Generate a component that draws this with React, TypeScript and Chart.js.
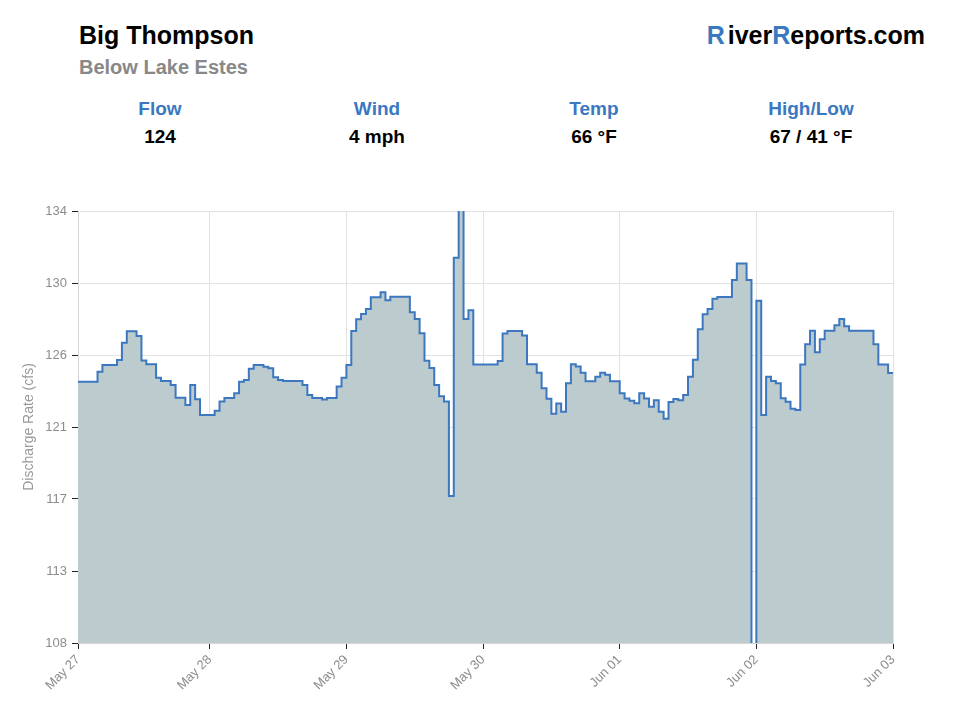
import React, { useEffect, useRef } from "react";
import { Chart, registerables } from "chart.js";

Chart.register(...registerables);

// ---- Data ----
const stationName = "Big Thompson";
const stationSub = "Below Lake Estes";
const statLabels = ["Flow", "Wind", "Temp", "High/Low"];
const statValues = ["124", "4 mph", "66 °F", "67 / 41 °F"];

// hourly discharge (cfs), starting May 27 00:00
const flowValues = [
  123.73, 123.73, 123.73, 123.73, 124.33, 124.73, 124.73, 124.73, 125.03, 126.07,
  126.76, 126.76, 126.48, 125.0, 124.77, 124.77, 123.97, 123.77, 123.77, 123.53,
  122.76, 122.76, 122.32, 123.53, 122.67, 121.72, 121.72, 121.72, 121.98, 122.53,
  122.75, 122.75, 123.03, 123.73, 123.83, 124.51, 124.73, 124.73, 124.63, 124.53,
  123.99, 123.83, 123.77, 123.77, 123.77, 123.77, 123.53, 122.93, 122.75, 122.75,
  122.65, 122.75, 122.75, 123.43, 123.97, 124.73, 126.78, 127.48, 127.8, 128.1,
  128.81, 128.81, 129.11, 128.63, 128.84, 128.84, 128.84, 128.84, 127.9, 127.5,
  126.64, 124.99, 124.55, 123.53, 122.85, 122.53, 116.85, 131.19, 137.0, 127.5,
  128.03, 124.76, 124.76, 124.76, 124.76, 124.76, 124.97, 126.62, 126.78, 126.78,
  126.78, 126.5, 124.78, 124.78, 124.27, 123.33, 122.7, 121.79, 122.41, 121.92,
  123.64, 124.77, 124.64, 124.27, 123.76, 123.76, 124.03, 124.26, 124.14, 123.75,
  123.75, 123.03, 122.72, 122.58, 122.43, 123.03, 122.71, 122.22, 122.61, 121.92,
  121.5, 122.51, 122.69, 122.61, 122.93, 124.03, 125.05, 126.88, 127.79, 128.1,
  128.72, 128.82, 128.82, 128.82, 129.84, 130.84, 130.84, 129.84, 100.0, 128.6,
  121.72, 124.03, 123.77, 123.63, 122.73, 122.52, 122.1, 122.02, 124.76, 125.98,
  126.79, 125.5, 126.28, 126.79, 126.79, 127.12, 127.5, 127.07, 126.79, 126.79,
  126.79, 126.79, 126.79, 125.98, 124.76, 124.76, 124.25,
];

const xTickHours = [0, 27, 55, 83, 111, 139, 167];
const xTickLabels = ["May 27", "May 28", "May 29", "May 30", "Jun 01", "Jun 02", "Jun 03"];
const yMin = 108;
const yMax = 134;
const yTickLabels = ["108", "113", "117", "121", "126", "130", "134"];

const FONT = '"Liberation Sans", Arial, Helvetica, sans-serif';
const BLUE = "#3a78c2";

export default function App() {
  const ref = useRef<HTMLCanvasElement | null>(null);

  useEffect(() => {
    if (!ref.current) return;
    Chart.defaults.font.family = FONT;
    const pts = flowValues.map((v, i) => ({ x: i, y: v }));
    pts.push({ x: flowValues.length, y: flowValues[flowValues.length - 1] });
    const yStep = (yMax - yMin) / (yTickLabels.length - 1);
    const yTickValues = yTickLabels.map((_, i) => yMin + i * yStep);

    const chart = new Chart(ref.current, {
      type: "line",
      data: {
        datasets: [
          {
            data: pts,
            stepped: "before",
            borderColor: "#3c77bf",
            borderWidth: 2,
            backgroundColor: "#bccbce",
            fill: "start",
            pointRadius: 0,
            tension: 0,
          },
        ],
      },
      options: {
        animation: false,
        responsive: false,
        devicePixelRatio: 1,
        layout: { padding: { top: 21, right: 67, left: 0, bottom: 0 } },
        plugins: { legend: { display: false }, tooltip: { enabled: false } },
        scales: {
          x: {
            type: "linear",
            min: 0,
            max: xTickHours[xTickHours.length - 1],
            afterBuildTicks: (s: any) => {
              s.ticks = xTickHours.map((v) => ({ value: v }));
            },
            afterFit: (s: any) => {
              s.height = 77;
            },
            grid: { color: "#e2e2e2", tickColor: "#222", tickLength: 6 },
            border: { color: "#d6d6d6" },
            ticks: {
              autoSkip: false,
              maxRotation: 45,
              minRotation: 45,
              color: "#8c8c8c",
              font: { size: 13 },
              padding: 3,
              callback: (v: any) => {
                const i = xTickHours.indexOf(Number(v));
                return i >= 0 ? xTickLabels[i] : "";
              },
            },
          },
          y: {
            type: "linear",
            min: yMin,
            max: yMax,
            afterBuildTicks: (s: any) => {
              s.ticks = yTickValues.map((v) => ({ value: v }));
            },
            afterFit: (s: any) => {
              s.width = 78;
            },
            grid: { color: "#e2e2e2", tickColor: "#222", tickLength: 6 },
            border: { color: "#d6d6d6" },
            ticks: {
              color: "#8c8c8c",
              font: { size: 13 },
              padding: 5,
              callback: (_v: any, i: number) => yTickLabels[i],
            },
            title: {
              display: true,
              text: "Discharge Rate (cfs)",
              color: "#999",
              font: { size: 14 },
              padding: { top: 21, bottom: 0 },
            },
          },
        },
      },
    });
    return () => chart.destroy();
  }, []);

  const colW = 217;
  const colLeft = 51.5;

  return (
    <div
      style={{
        position: "fixed",
        left: 0,
        top: 0,
        width: 960,
        height: 720,
        background: "#fff",
        fontFamily: FONT,
        overflow: "hidden",
      }}
    >
      <div
        style={{
          position: "absolute",
          left: 79,
          top: 23,
          fontSize: 25,
          lineHeight: "25px",
          fontWeight: "bold",
          color: "#000",
          whiteSpace: "nowrap",
        }}
      >
        {stationName}
      </div>
      <div
        style={{
          position: "absolute",
          left: 79,
          top: 57,
          fontSize: 20,
          lineHeight: "20px",
          fontWeight: "bold",
          color: "#888",
          whiteSpace: "nowrap",
        }}
      >
        {stationSub}
      </div>
      <div
        style={{
          position: "absolute",
          right: 35,
          top: 23,
          fontSize: 25,
          lineHeight: "25px",
          fontWeight: "bold",
          color: "#000",
          whiteSpace: "nowrap",
        }}
      >
        <span style={{ color: BLUE, marginRight: 3 }}>R</span>iver
        <span style={{ color: BLUE }}>R</span>eports.com
      </div>
      {statLabels.map((lab, i) => (
        <React.Fragment key={lab}>
          <div
            style={{
              position: "absolute",
              left: colLeft + i * colW,
              width: colW,
              top: 98.5,
              textAlign: "center",
              fontSize: 19,
              lineHeight: "19px",
              fontWeight: "bold",
              color: BLUE,
            }}
          >
            {lab}
          </div>
          <div
            style={{
              position: "absolute",
              left: colLeft + i * colW,
              width: colW,
              top: 126.5,
              textAlign: "center",
              fontSize: 19,
              lineHeight: "19px",
              fontWeight: "bold",
              color: "#000",
            }}
          >
            {statValues[i]}
          </div>
        </React.Fragment>
      ))}
      <canvas
        ref={ref}
        width={960}
        height={530}
        style={{ position: "absolute", left: 0, top: 190, width: 960, height: 530 }}
      />
    </div>
  );
}
